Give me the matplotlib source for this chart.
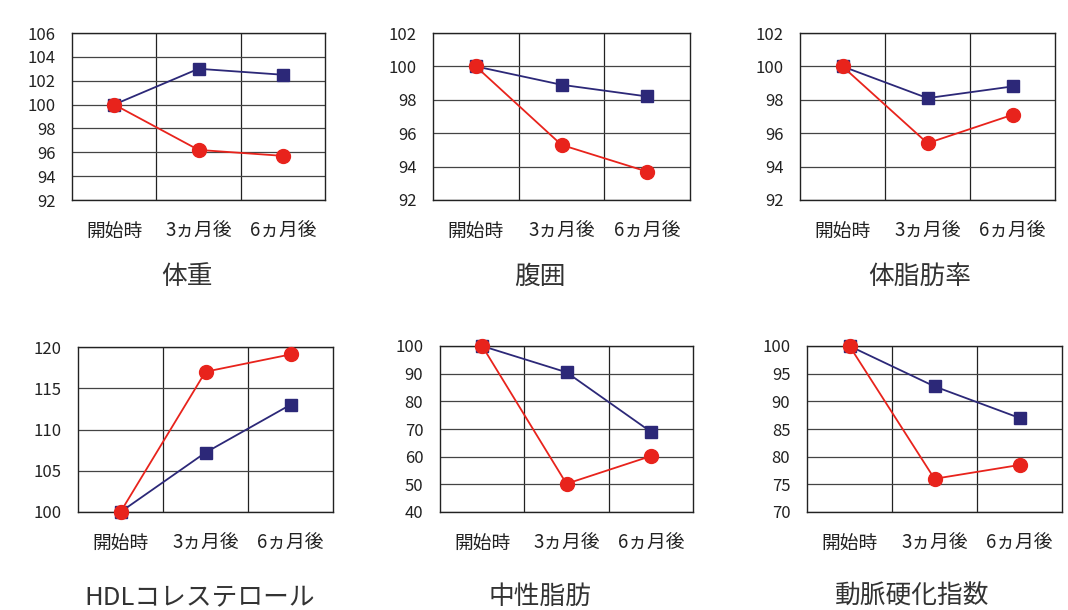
import matplotlib
matplotlib.use("Agg")
import matplotlib.pyplot as plt

plt.rcParams['font.family'] = ['Noto Sans CJK JP', 'DejaVu Sans']

W, H = 1068, 610

periods = ["開始時", "3ヵ月後", "6ヵ月後"]

titles = ["体重", "腹囲", "体脂肪率", "HDLコレステロール", "中性脂肪", "動脈硬化指数"]

blue_series = [
    [100, 103.0, 102.5],
    [100, 98.9, 98.2],
    [100, 98.1, 98.8],
    [100, 107.2, 113.0],
    [100, 90.5, 69.0],
    [100, 92.7, 87.0],
]
red_series = [
    [100, 96.2, 95.7],
    [100, 95.3, 93.7],
    [100, 95.4, 97.1],
    [100, 117.0, 119.1],
    [100, 50.2, 60.2],
    [100, 76.0, 78.5],
]

y_ranges = [(92, 106, 2), (92, 102, 2), (92, 102, 2),
            (100, 120, 5), (40, 100, 10), (70, 100, 5)]

# plot-area boxes in pixels: left, top, right, bottom
boxes = [(72, 33, 325, 200), (433, 33, 690, 200), (800, 33, 1055, 200),
         (78, 347, 333, 512), (440, 346, 693, 512), (807, 346, 1062, 512)]
title_pos = [(187, 277), (540, 277), (920, 277),
             (200, 597), (540, 597), (912, 597)]

RED = "#e8231c"
BLUE = "#2c2878"

fig = plt.figure(figsize=(W / 100, H / 100), dpi=100)

for i in range(6):
    l, t, r, b = boxes[i]
    ax = fig.add_axes([l / W, 1 - b / H, (r - l) / W, (b - t) / H])
    lo, hi, step = y_ranges[i]
    x = list(range(len(periods)))
    ax.plot(x, blue_series[i], color=BLUE, lw=1.3, marker="s", ms=8,
            mfc=BLUE, mec=BLUE, zorder=3, clip_on=False)
    ax.plot(x, red_series[i], color=RED, lw=1.3, marker="o", ms=10,
            mfc=RED, mec=RED, zorder=4, clip_on=False)
    ax.set_xlim(-0.5, 2.5)
    ax.set_ylim(lo, hi)
    ax.set_yticks(range(lo, hi + 1, step))
    ax.set_xticks(x)
    ax.set_xticklabels(periods)
    # category boundaries
    for xb in (0.5, 1.5):
        ax.axvline(xb, color="#222222", lw=0.9, zorder=1)
    ax.grid(axis="y", color="#444444", lw=0.9, zorder=1)
    for s in ax.spines.values():
        s.set_color("#222222")
        s.set_linewidth(1.0)
    ax.tick_params(axis="both", length=0, colors="#222222")
    ax.tick_params(axis="x", pad=15, labelsize=13.5)
    ax.tick_params(axis="y", pad=12, labelsize=12)
    tx, ty = title_pos[i]
    fig.text(tx / W, 1 - ty / H, titles[i], ha="center", va="center",
             fontsize=18.5, color="#333333")

fig.savefig("out.png", dpi=100)
